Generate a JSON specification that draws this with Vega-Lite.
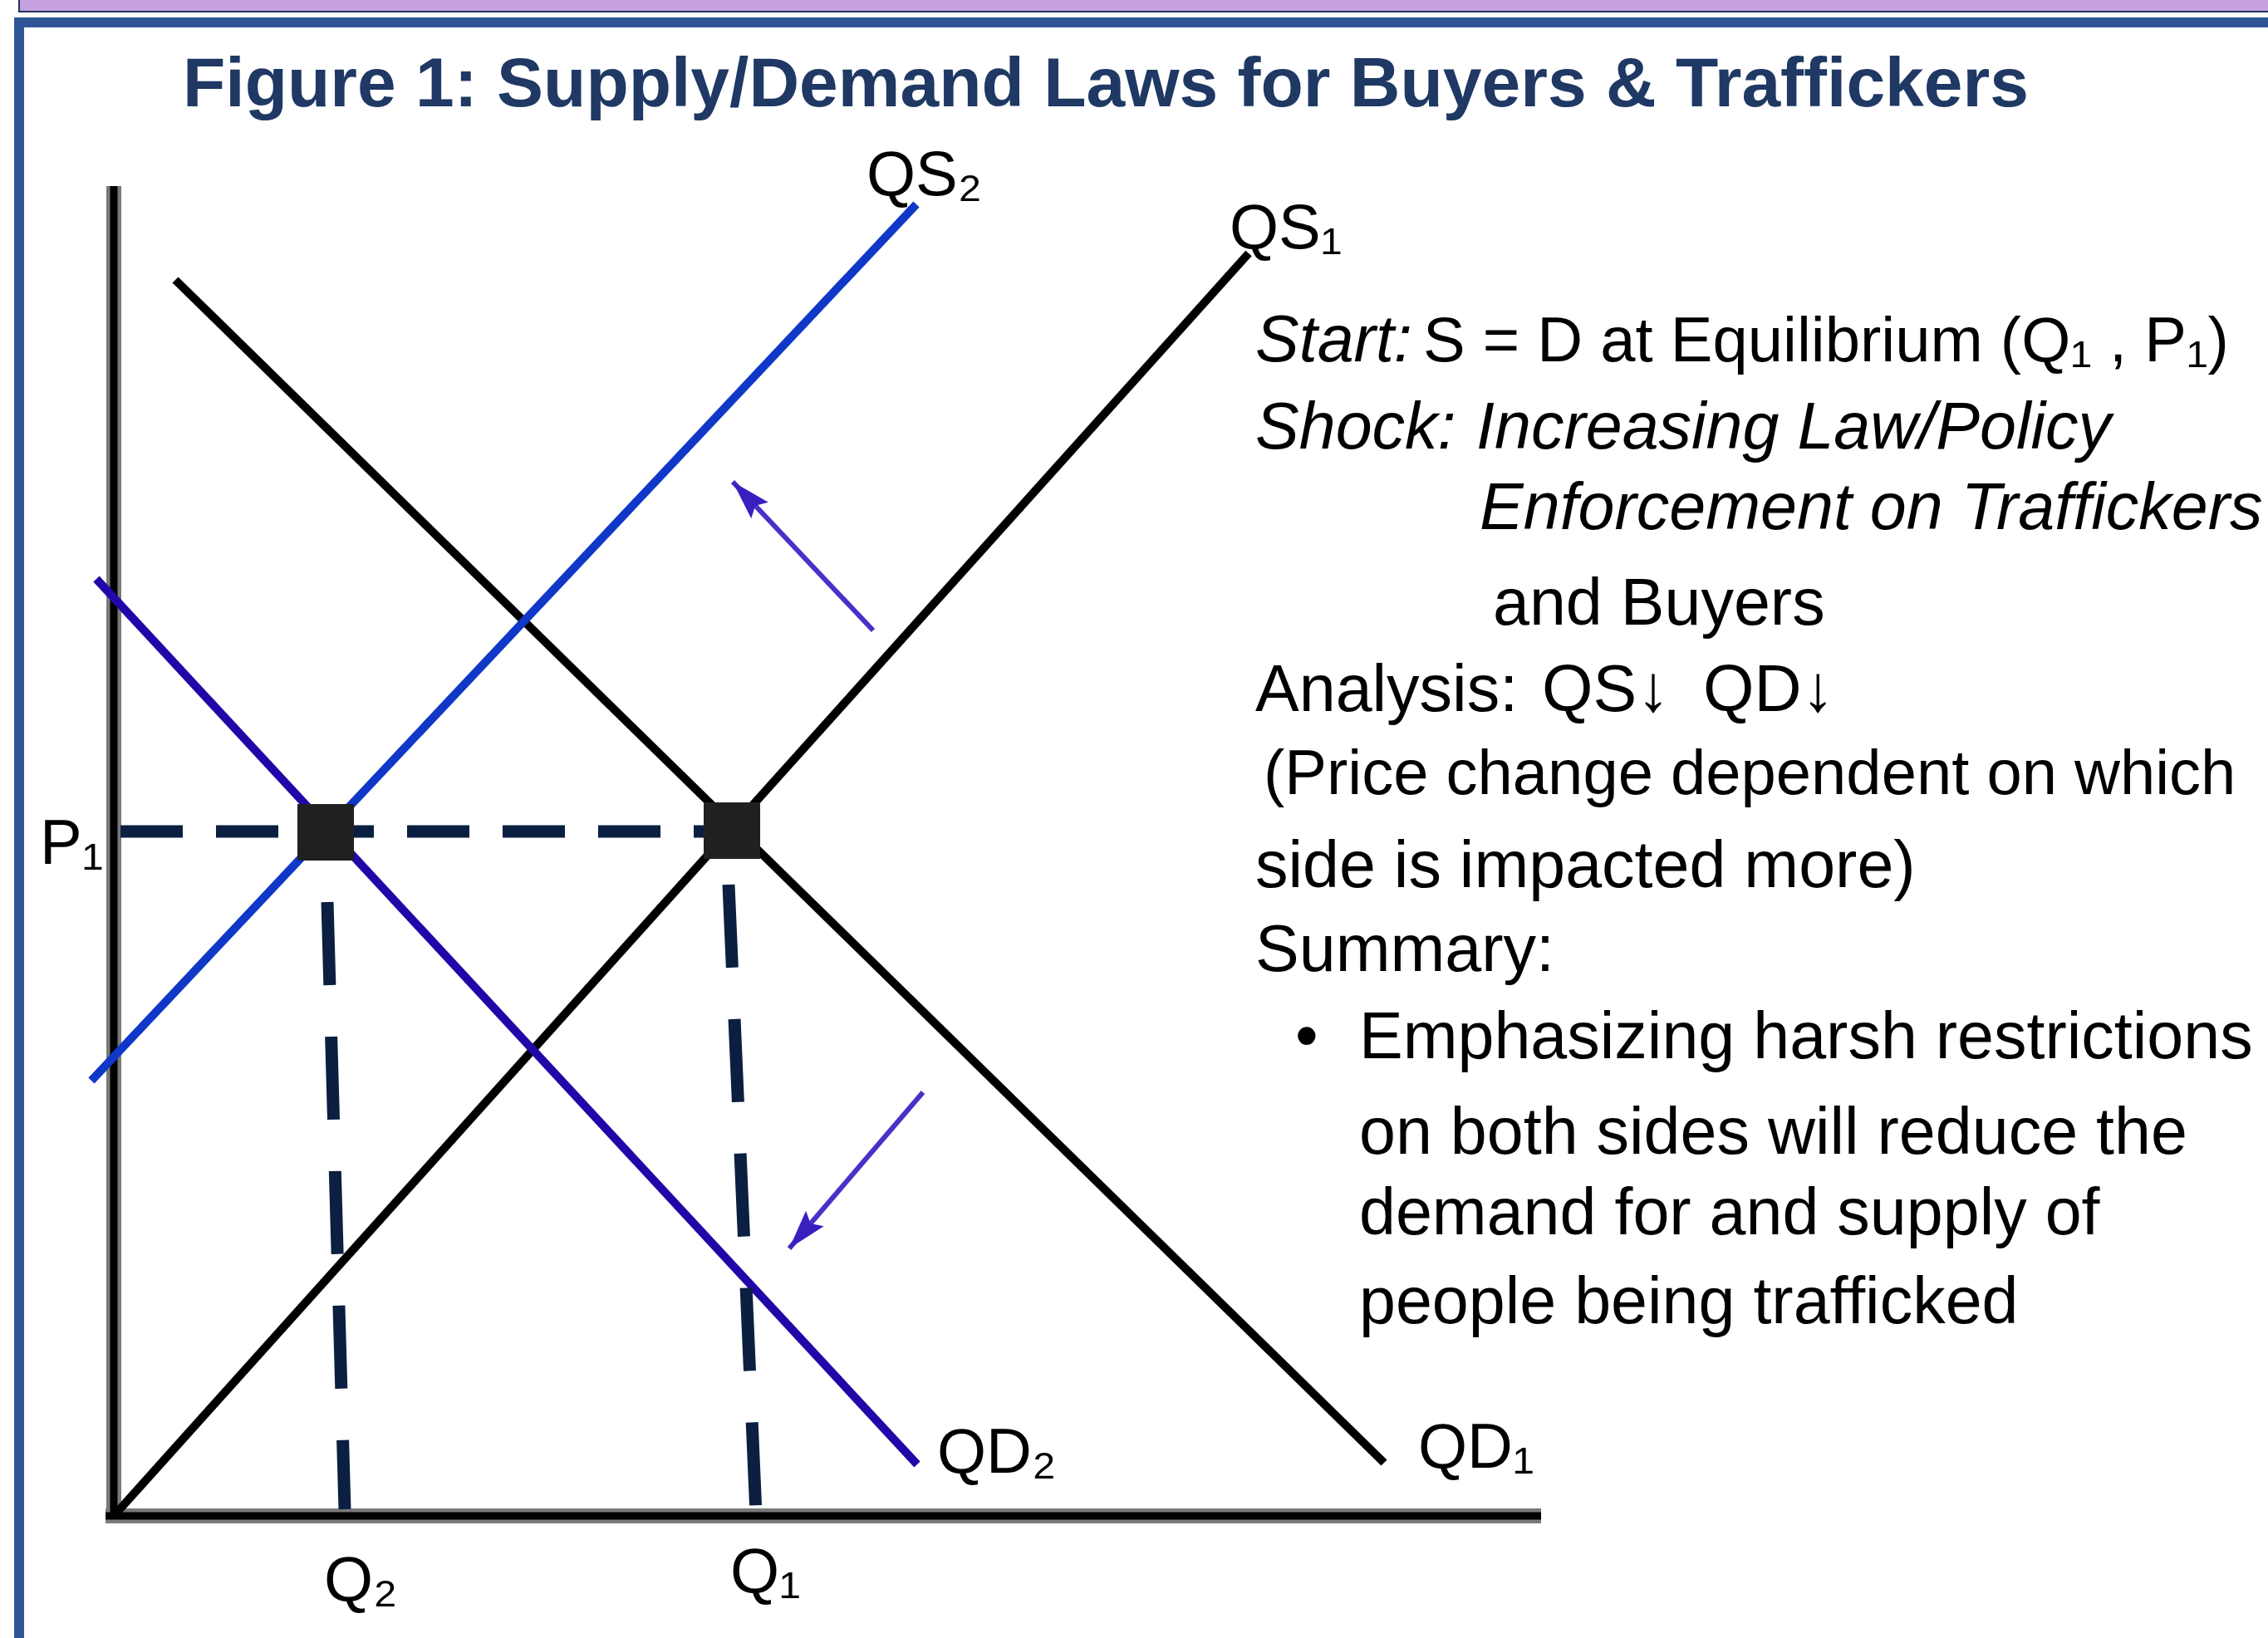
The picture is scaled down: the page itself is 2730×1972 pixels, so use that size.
{
  "$schema": "https://vega.github.io/schema/vega-lite/v6.json",
  "width": 2730,
  "height": 1972,
  "autosize": {"type": "none"},
  "padding": 0,
  "background": "#ffffff",
  "config": {"view": {"stroke": null}},
  "data": {"values": [{}]},
  "datasets": {
    "heading": [{"text": "Figure 1: Supply/Demand Laws for Buyers & Traffickers", "q": 8.3, "p": 169.7}],
    "axes": [
      {"axis": "price", "q": 0, "p": -0.4, "q2": 0, "p2": 160.1},
      {"axis": "quantity", "q": -1.0, "p": 0, "q2": 171.8, "p2": 0}
    ],
    "curves": [
      {"curve": "QS1", "q": 0, "p": 0, "q2": 136.6, "p2": 152.0},
      {"curve": "QD1", "q": 7.4, "p": 148.8, "q2": 152.9, "p2": 6.4},
      {"curve": "QS2", "q": -2.7, "p": 52.4, "q2": 96.6, "p2": 157.9},
      {"curve": "QD2", "q": -2.1, "p": 112.8, "q2": 96.7, "p2": 6.2}
    ],
    "guides": [
      {"guide": "P1", "q": 0.8, "p": 82.4, "q2": 74.4, "p2": 82.4},
      {"guide": "Q2", "q": 25.7, "p": 73.9, "q2": 27.8, "p2": 0.8},
      {"guide": "Q1", "q": 74.0, "p": 76.0, "q2": 77.3, "p2": 0.2}
    ],
    "equilibria": [
      {"point": "E1", "q": 74.4, "p": 82.5},
      {"point": "E2", "q": 25.5, "p": 82.3}
    ],
    "shifts": [
      {"shift": "supply", "q": 91.4, "p": 106.6, "q2": 74.5, "p2": 124.5},
      {"shift": "demand", "q": 97.4, "p": 51.0, "q2": 81.3, "p2": 32.2}
    ],
    "labels": [
      {"label": "QS₂", "q": 90.6, "p": 159.0},
      {"label": "QS₁", "q": 134.3, "p": 152.6},
      {"label": "QD₂", "q": 99.1, "p": 5.2},
      {"label": "QD₁", "q": 157.0, "p": 5.8},
      {"label": "P₁", "q": -8.9, "p": 78.5},
      {"label": "Q₂", "q": 25.3, "p": -10.2},
      {"label": "Q₁", "q": 74.2, "p": -9.2}
    ],
    "notesPlain": [
      {"text": "and Buyers", "q": 166.0, "p": 107.3},
      {"text": "Analysis:", "q": 137.4, "p": 96.9},
      {"text": "QS↓", "q": 171.9, "p": 96.9},
      {"text": "QD↓", "q": 191.3, "p": 96.9},
      {"text": "side is impacted more)", "q": 137.4, "p": 75.7},
      {"text": "Summary:", "q": 137.4, "p": 65.6},
      {"text": "•", "q": 142.2, "p": 55.1},
      {"text": "Emphasizing harsh restrictions", "q": 149.9, "p": 55.1},
      {"text": "on both sides will reduce the", "q": 149.9, "p": 43.6},
      {"text": "demand for and supply of", "q": 149.9, "p": 33.9},
      {"text": "people being trafficked", "q": 149.9, "p": 23.2}
    ],
    "notesTight": [
      {"text": "S = D at Equilibrium (Q₁ , P₁)", "q": 157.6, "p": 139.0},
      {"text": "(Price change dependent on which", "q": 138.4, "p": 86.9}
    ],
    "notesItalic": [
      {"text": "Start:", "q": 137.4, "p": 139.0},
      {"text": "Shock:", "q": 137.4, "p": 128.5},
      {"text": "Increasing Law/Policy", "q": 164.0, "p": 128.5},
      {"text": "Enforcement on Traffickers", "q": 164.4, "p": 118.8}
    ]
  },
  "layer": [
    {
      "mark": {"type": "rect", "fill": "#C6A1E0", "stroke": "#23335F", "strokeWidth": 2},
      "encoding": {
        "x": {"datum": -11.4, "type": "quantitative", "scale": {"domain": [-13.7, 259.3], "nice": false, "zero": false}, "axis": null},
        "x2": {"datum": 262},
        "y": {"datum": 184, "type": "quantitative", "scale": {"domain": [-14.7, 182.5], "nice": false, "zero": false}, "axis": null},
        "y2": {"datum": 181.1}
      }
    },
    {
      "mark": {"type": "rule", "color": "#2F5597", "strokeWidth": 12},
      "encoding": {
        "x": {"datum": -11.4, "type": "quantitative", "axis": null},
        "y": {"datum": 180.4, "type": "quantitative", "axis": null},
        "y2": {"datum": -16}
      }
    },
    {
      "mark": {"type": "rule", "color": "#2F5597", "strokeWidth": 12},
      "encoding": {
        "x": {"datum": -12, "type": "quantitative", "axis": null},
        "x2": {"datum": 262},
        "y": {"datum": 179.8, "type": "quantitative", "axis": null}
      }
    },
    {
      "data": {"name": "heading"},
      "mark": {"type": "text", "font": "Liberation Sans", "fontWeight": "bold", "fontSize": 84, "color": "#1F3864", "align": "left", "baseline": "alphabetic"},
      "encoding": {
        "x": {"field": "q", "type": "quantitative", "axis": null},
        "y": {"field": "p", "type": "quantitative", "axis": null},
        "text": {"field": "text"}
      }
    },
    {
      "data": {"name": "axes"},
      "mark": {"type": "rule", "color": "#7a7a7a", "strokeWidth": 18},
      "encoding": {
        "x": {"field": "q", "type": "quantitative", "axis": null},
        "y": {"field": "p", "type": "quantitative", "axis": null},
        "x2": {"field": "q2"},
        "y2": {"field": "p2"}
      }
    },
    {
      "data": {"name": "axes"},
      "mark": {"type": "rule", "color": "#000000", "strokeWidth": 9},
      "encoding": {
        "x": {"field": "q", "type": "quantitative", "axis": null},
        "y": {"field": "p", "type": "quantitative", "axis": null},
        "x2": {"field": "q2"},
        "y2": {"field": "p2"}
      }
    },
    {
      "data": {"name": "curves"},
      "mark": {"type": "rule", "strokeWidth": 10},
      "encoding": {
        "x": {"field": "q", "type": "quantitative", "axis": null},
        "y": {"field": "p", "type": "quantitative", "axis": null},
        "x2": {"field": "q2"},
        "y2": {"field": "p2"},
        "color": {"field": "curve", "type": "nominal", "scale": {"domain": ["QS1", "QD1", "QS2", "QD2"], "range": ["#000000", "#000000", "#1038C8", "#2008A8"]}, "legend": null}
      }
    },
    {
      "data": {"name": "guides"},
      "transform": [{"filter": "datum.guide === 'P1'"}],
      "mark": {"type": "rule", "color": "#0B1F40", "strokeWidth": 15, "strokeDash": [75, 40]},
      "encoding": {
        "x": {"field": "q", "type": "quantitative", "axis": null},
        "y": {"field": "p", "type": "quantitative", "axis": null},
        "x2": {"field": "q2"},
        "y2": {"field": "p2"}
      }
    },
    {
      "data": {"name": "guides"},
      "transform": [{"filter": "datum.guide !== 'P1'"}],
      "mark": {"type": "rule", "color": "#0B1F40", "strokeWidth": 15, "strokeDash": [100, 62]},
      "encoding": {
        "x": {"field": "q", "type": "quantitative", "axis": null},
        "y": {"field": "p", "type": "quantitative", "axis": null},
        "x2": {"field": "q2"},
        "y2": {"field": "p2"}
      }
    },
    {
      "data": {"name": "equilibria"},
      "mark": {"type": "point", "shape": "square", "filled": true, "size": 4624, "color": "#202020", "opacity": 1},
      "encoding": {
        "x": {"field": "q", "type": "quantitative", "axis": null},
        "y": {"field": "p", "type": "quantitative", "axis": null}
      }
    },
    {
      "data": {"name": "shifts"},
      "mark": {"type": "rule", "color": "#4A30C8", "strokeWidth": 6},
      "encoding": {
        "x": {"field": "q", "type": "quantitative", "axis": null},
        "y": {"field": "p", "type": "quantitative", "axis": null},
        "x2": {"field": "q2"},
        "y2": {"field": "p2"}
      }
    },
    {
      "data": {"name": "shifts"},
      "transform": [{"filter": "datum.shift === 'supply'"}],
      "mark": {"type": "point", "shape": "M0,0L0.45,1.5L0,1.25L-0.45,1.5Z", "size": 4000, "filled": true, "color": "#3A1FC0", "opacity": 1, "angle": 316.6},
      "encoding": {
        "x": {"field": "q2", "type": "quantitative", "axis": null},
        "y": {"field": "p2", "type": "quantitative", "axis": null}
      }
    },
    {
      "data": {"name": "shifts"},
      "transform": [{"filter": "datum.shift === 'demand'"}],
      "mark": {"type": "point", "shape": "M0,0L0.45,1.5L0,1.25L-0.45,1.5Z", "size": 4000, "filled": true, "color": "#3A1FC0", "opacity": 1, "angle": 220.6},
      "encoding": {
        "x": {"field": "q2", "type": "quantitative", "axis": null},
        "y": {"field": "p2", "type": "quantitative", "axis": null}
      }
    },
    {
      "data": {"name": "labels"},
      "mark": {"type": "text", "font": "Liberation Sans", "fontSize": 76, "color": "#000000", "align": "left", "baseline": "alphabetic"},
      "encoding": {
        "x": {"field": "q", "type": "quantitative", "axis": null},
        "y": {"field": "p", "type": "quantitative", "axis": null},
        "text": {"field": "label"}
      }
    },
    {
      "data": {"name": "notesPlain"},
      "mark": {"type": "text", "font": "Liberation Sans", "fontSize": 79, "color": "#000000", "align": "left", "baseline": "alphabetic"},
      "encoding": {
        "x": {"field": "q", "type": "quantitative", "axis": null},
        "y": {"field": "p", "type": "quantitative", "axis": null},
        "text": {"field": "text"}
      }
    },
    {
      "data": {"name": "notesTight"},
      "mark": {"type": "text", "font": "Liberation Sans", "fontSize": 76, "color": "#000000", "align": "left", "baseline": "alphabetic"},
      "encoding": {
        "x": {"field": "q", "type": "quantitative", "axis": null},
        "y": {"field": "p", "type": "quantitative", "axis": null},
        "text": {"field": "text"}
      }
    },
    {
      "data": {"name": "notesItalic"},
      "mark": {"type": "text", "font": "Liberation Sans", "fontStyle": "italic", "fontSize": 79, "color": "#000000", "align": "left", "baseline": "alphabetic"},
      "encoding": {
        "x": {"field": "q", "type": "quantitative", "axis": null},
        "y": {"field": "p", "type": "quantitative", "axis": null},
        "text": {"field": "text"}
      }
    }
  ]
}
